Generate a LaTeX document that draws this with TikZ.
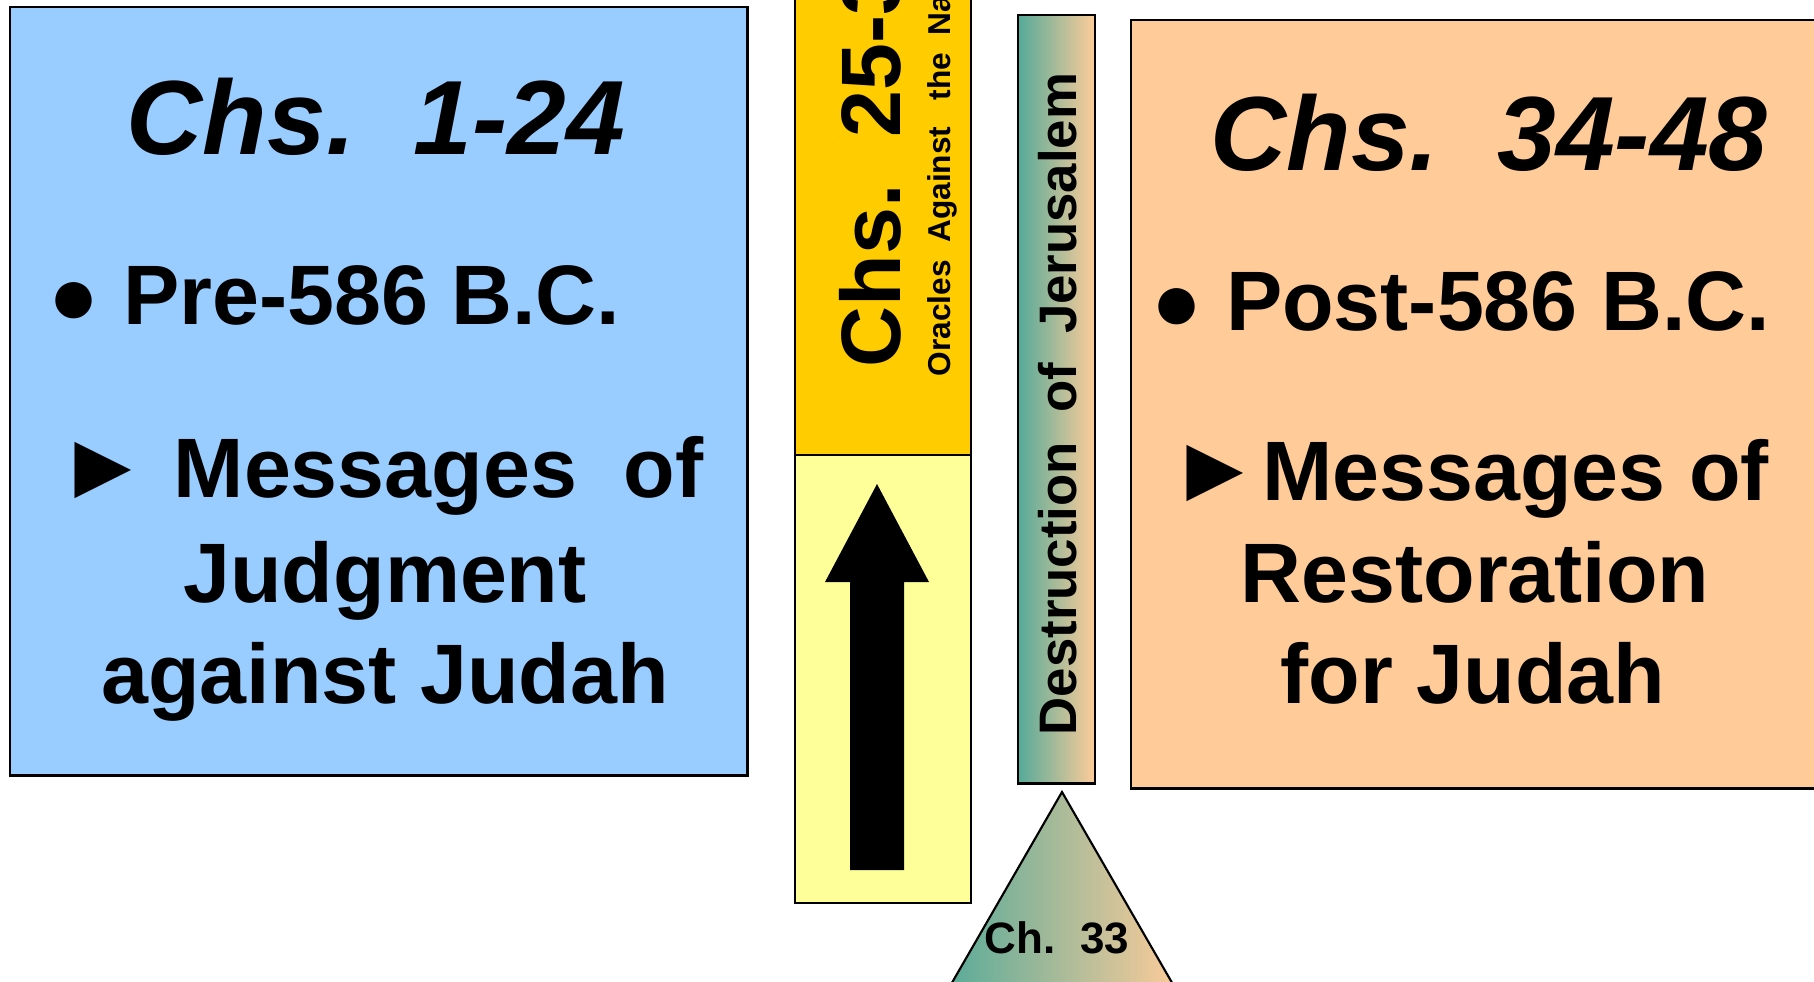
\documentclass[tikz,border=0pt]{standalone}
\usepackage{fontspec}
\setmainfont{Liberation Sans}
\usepackage{tikz}

\definecolor{judgblue}{RGB}{153,204,255}
\definecolor{oraclegold}{RGB}{255,204,0}
\definecolor{oracleyellow}{RGB}{255,255,153}
\definecolor{restpeach}{RGB}{255,204,153}
\definecolor{fallteal}{RGB}{0,153,153}
\pgfdeclarehorizontalshading{fall}{100bp}{color(0bp)=(fallteal); color(75bp)=(restpeach); color(100bp)=(restpeach)}

\begin{document}
\begin{tikzpicture}[
    x=0.01cm, y=-0.01cm,
    panel/.style={rectangle,draw,line width=0.6pt,inner sep=0pt,anchor=north west},
    title/.style={inner sep=0pt,anchor=base,font=\bfseries\itshape\fontsize{30}{36}\selectfont},
    point/.style={inner sep=0pt,font=\bfseries\fontsize{24}{29}\selectfont},
    sidetext/.style={inner sep=0pt,rotate=90,font=\bfseries}
]
    \useasboundingbox (0,0) rectangle (1814,981);
    \clip (0,0) rectangle (1814,981);

    % the three periods
    \node[panel,fill=judgblue,minimum width=7.37cm,minimum height=7.68cm] (judg) at (9,6) {};
    \node[panel,fill=oraclegold,minimum width=1.76cm,minimum height=4.74cm] (oracle) at (794,-20) {};
    \node[panel,fill=oracleyellow,minimum width=1.76cm,minimum height=4.48cm] (interlude) at (794,454) {};
    \node[panel,shade,shading=fall,minimum width=0.77cm,minimum height=7.68cm] (fall) at (1017,14) {};
    \node[panel,fill=restpeach,minimum width=7.00cm,minimum height=7.68cm] (rest) at (1130,19) {};

    % left panel
    \node[title] (judgtitle) at (376,154) {Chs.~~1-24};
    \node[point,anchor=base west] (judgdate) at (48,324) {● Pre-586 B.C.};
    \node[point,anchor=base west] (judgmsg) at (56,497) {\scalebox{1.12}{►} Messages~~of};
    \node[point,anchor=base] (judgline2) at (385,602) {Judgment};
    \node[point,anchor=base] (judgline3) at (385,703) {against Judah};

    % middle column
    \node[sidetext,anchor=base west,font=\bfseries\fontsize{24}{29}\selectfont] (oracletitle) at (900,368) {Chs.~~25-32};
    \node[sidetext,anchor=base west,font=\bfseries\fontsize{9}{11}\selectfont] (oraclesub) at (950,377) {Oracles~~Against~~~the~~Nations};
    \fill (850,870) -- (850,582) -- (825,582) -- (877,484) -- (929,582) -- (904,582) -- (904,870) -- cycle;

    % destruction
    \node[sidetext,anchor=base,font=\bfseries\fontsize{15}{18}\selectfont] (falltext) at (1076,404) {Destruction~~of~~Jerusalem};
    \shade[draw,line width=0.6pt,shading=fall] (1062,792) -- (1182,1000) -- (942,1000) -- cycle;
    \node[inner sep=0pt,anchor=base,font=\bfseries\fontsize{12.5}{15}\selectfont] (ch33) at (1057,953) {Ch.~~33};

    % right panel
    \node[title] (resttitle) at (1489,170) {Chs.~~34-48};
    \node[point,anchor=base west] (restdate) at (1151,330) {● Post-586 B.C.};
    \node[point,anchor=base west] (restmsg) at (1168,500) {\scalebox{1.12}{►}Messages of};
    \node[point,anchor=base] (restline2) at (1475,602) {Restoration};
    \node[point,anchor=base] (restline3) at (1473,703) {for Judah};
\end{tikzpicture}
\end{document}
